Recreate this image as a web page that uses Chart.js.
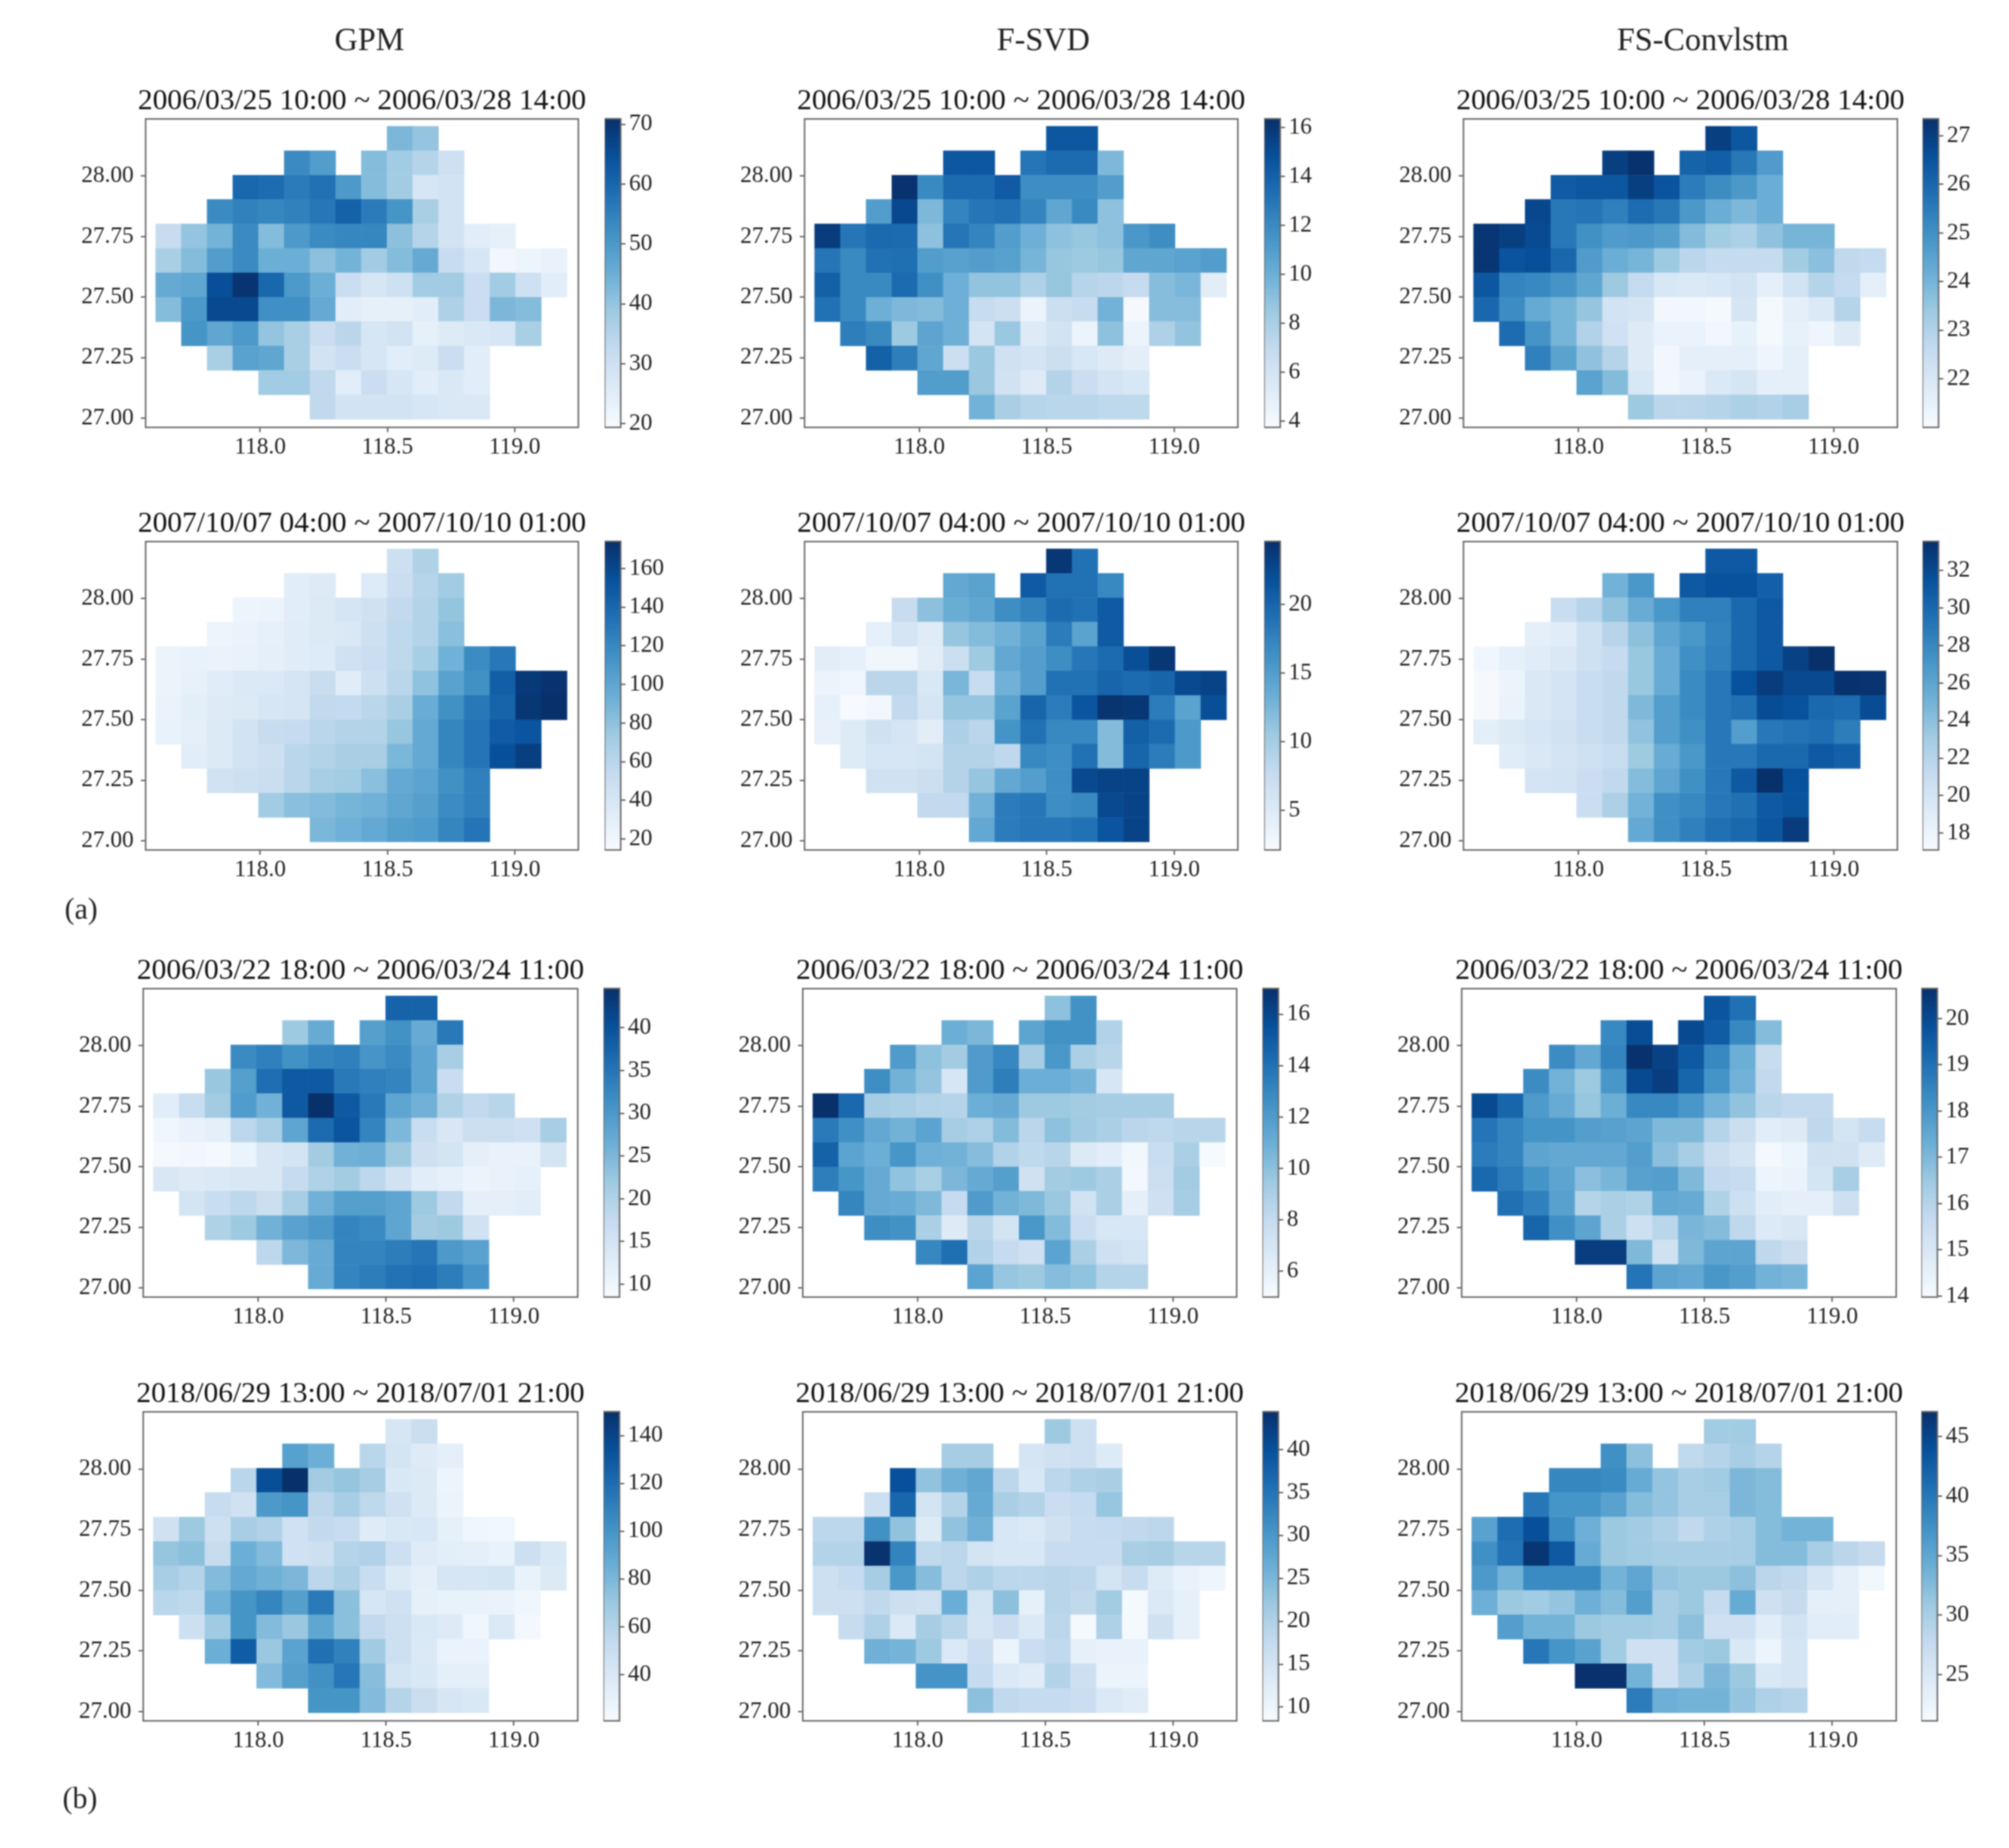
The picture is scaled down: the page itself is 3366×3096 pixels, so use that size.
<!DOCTYPE html>
<html>
<head>
<meta charset="utf-8">
<script src="https://cdn.jsdelivr.net/npm/chart.js@4"></script>
<style>
  html, body { margin: 0; background: #fff; }
  #page { position: relative; width: 3366px; height: 3096px; overflow: hidden; font-family: "Liberation Serif", serif; color: #222; filter: blur(1px); }
  canvas { position: absolute; }
  .label { position: absolute; transform: translate(-50%, -50%); white-space: nowrap; }
</style>
</head>
<body>
<div id="page"></div>
<script>
// --- Grid ---
const lonCenters = [117.64, 117.741, 117.842, 117.943, 118.044, 118.145, 118.246, 118.347, 118.448, 118.549, 118.65, 118.751, 118.852, 118.953, 119.054, 119.155];
const latCenters = [28.155, 28.054, 27.953, 27.853, 27.752, 27.651, 27.55, 27.449, 27.349, 27.248, 27.147, 27.046];
const latHalf = 0.0504;
// which lon columns hold a cell, one list per lat row (top row first)
const rowColumns = [
  [9, 10],
  [5, 6, 8, 9, 10, 11],
  [3, 4, 5, 6, 7, 8, 9, 10, 11],
  [2, 3, 4, 5, 6, 7, 8, 9, 10, 11],
  [0, 1, 2, 3, 4, 5, 6, 7, 8, 9, 10, 11, 12, 13],
  [0, 1, 2, 3, 4, 5, 6, 7, 8, 9, 10, 11, 12, 13, 14, 15],
  [0, 1, 2, 3, 4, 5, 6, 7, 8, 9, 10, 11, 12, 13, 14, 15],
  [0, 1, 2, 3, 4, 5, 6, 7, 8, 9, 10, 11, 12, 13, 14],
  [1, 2, 3, 4, 5, 6, 7, 8, 9, 10, 11, 12, 13, 14],
  [2, 3, 4, 5, 6, 7, 8, 9, 10, 11, 12],
  [4, 5, 6, 7, 8, 9, 10, 11, 12],
  [6, 7, 8, 9, 10, 11, 12]
];
const lonTicks = [118, 118.5, 119];
const latTicks = [27, 27.25, 27.5, 27.75, 28];

const columnNames = ["GPM", "F-SVD", "FS-Convlstm"];
const eventTitles = [
  "2006/03/25 10:00 ~ 2006/03/28 14:00",
  "2007/10/07 04:00 ~ 2007/10/10 01:00",
  "2006/03/22 18:00 ~ 2006/03/24 11:00",
  "2018/06/29 13:00 ~ 2018/07/01 21:00"
];

// --- Values ---
const gpm1 = [
  [43, 40],
  [53, 49, 42, 38, 35, 30],
  [60, 59, 56, 58, 50, 42, 38, 28, 29],
  [53, 55, 54, 55, 57, 61, 56, 51, 37, 29],
  [32, 40, 44, 53, 42, 50, 53, 54, 54, 41, 35, 29, 25, 24],
  [37, 42, 49, 53, 45, 45, 41, 44, 38, 42, 46, 32, 28, 21, 22, 23],
  [46, 47, 65, 70, 60, 50, 45, 31, 28, 30, 38, 38, 31, 38, 30, 25],
  [42, 50, 66, 66, 52, 52, 46, 25, 24, 24, 25, 36, 31, 43, 42],
  [51, 47, 50, 40, 37, 31, 34, 28, 29, 24, 26, 27, 28, 37],
  [37, 48, 47, 37, 29, 31, 28, 25, 26, 31, 25],
  [38, 38, 33, 25, 31, 28, 25, 27, 25],
  [33, 29, 29, 29, 28, 27, 27]
];
const fsvd1 = [
  [14.5, 14.5],
  [14.5, 14.5, 13, 13.5, 13.5, 9.5],
  [16.2, 12, 13.5, 13.5, 14.3, 11.8, 11.8, 11.8, 11],
  [11, 15.2, 9.5, 12.3, 13, 13.2, 12.3, 10.5, 12, 9],
  [15.8, 13, 13.6, 13.5, 9, 13, 12.3, 11, 10, 9, 8.7, 9, 11.3, 11.8],
  [13, 12, 13.2, 13.3, 11, 10.8, 11, 10.8, 9.7, 8.7, 8.5, 8.7, 10.5, 10.5, 10.7, 11],
  [14, 12, 12, 13.5, 11.7, 10, 8.8, 8.8, 7.8, 8.7, 7.5, 7.3, 6.9, 9.2, 9.6, 5.1],
  [13.2, 12, 10, 9.5, 9.3, 10, 6.8, 6.5, 4.5, 6.5, 6.8, 9.8, 3.9, 9.2, 9.2],
  [12.6, 12, 8.5, 10.6, 10, 6, 8.6, 5.3, 6.1, 4.5, 9, 4.5, 7.8, 8.8],
  [14, 12.6, 10.5, 6.5, 8.6, 6.3, 6, 6.5, 5.7, 5.3, 5],
  [11, 11, 8.6, 6.2, 5.3, 7.6, 6.6, 6, 5.7],
  [9.8, 8, 7.5, 7.4, 7.4, 7.2, 7.2]
];
const fsconv1 = [
  [27, 26.4],
  [27, 27.3, 26.1, 26.2, 25.6, 24.7],
  [26.3, 26.4, 26.4, 27, 26.5, 25.5, 25.1, 24.8, 24.2],
  [26.8, 25.6, 25.7, 25.4, 25.9, 25.6, 24.8, 24.2, 23.9, 24.2],
  [27.2, 27, 26.7, 25.6, 25, 24.7, 24.8, 24.6, 23.8, 23.3, 23.1, 23.6, 24, 24],
  [27.2, 26.5, 26.6, 26, 24.7, 24.2, 24, 23.4, 22.8, 22.6, 22.6, 22.6, 23.3, 23.7, 22.7, 22.6],
  [26.4, 25.3, 25.2, 24.9, 24.4, 23.4, 22.6, 22, 21.9, 22, 22.2, 21.6, 22.2, 22.9, 22.6, 21.6],
  [26, 25.1, 24.3, 24, 23.5, 22.2, 22.1, 21.2, 21.2, 21.1, 22.1, 21.1, 21.6, 21.9, 22.9],
  [25.9, 24.9, 24, 23, 22.3, 21.8, 21.4, 21.4, 21.2, 21.5, 21.1, 21.5, 21.3, 21.8],
  [25.4, 24.5, 23.6, 22.9, 21.8, 21.2, 21.6, 21.6, 21.6, 21.3, 21.6],
  [24.5, 23.8, 22, 21.2, 21.4, 21.9, 22.1, 21.6, 21.6],
  [23.4, 22.8, 22.8, 22.9, 23.1, 23, 23.2]
];
const gpm2 = [
  [48, 65],
  [32, 34, 35, 50, 62, 72],
  [23, 24, 32, 36, 42, 46, 56, 64, 78],
  [23, 25, 28, 33, 36, 38, 48, 58, 64, 82],
  [24, 26, 25, 26, 29, 33, 35, 47, 50, 58, 70, 92, 118, 130],
  [24, 27, 33, 37, 37, 42, 52, 33, 48, 60, 80, 103, 115, 145, 168, 172],
  [25, 31, 34, 36, 40, 42, 56, 55, 60, 68, 95, 115, 130, 142, 170, 174],
  [26, 29, 36, 44, 53, 54, 60, 64, 64, 77, 98, 122, 132, 148, 152],
  [32, 36, 44, 48, 60, 64, 68, 68, 88, 98, 122, 132, 155, 165],
  [45, 48, 50, 60, 70, 72, 82, 98, 102, 115, 125],
  [72, 82, 85, 90, 92, 100, 105, 118, 125],
  [88, 93, 98, 105, 108, 122, 132]
];
const fsvd2 = [
  [24, 19],
  [14, 14.5, 21, 19, 19, 17],
  [7.5, 11.5, 13.5, 14.2, 16.5, 17.5, 19.5, 19, 21],
  [4, 6, 4.8, 11, 12, 13, 14.5, 18, 14.5, 21],
  [4.5, 4, 3, 3, 4.5, 7, 10.5, 14, 15, 16.5, 18.5, 19.5, 22, 24],
  [3.5, 3, 8.5, 8.5, 5.5, 12.5, 7.5, 13, 15, 19, 19, 20, 19.5, 20, 22.5, 23],
  [4, 2.2, 2.8, 8, 6, 11, 11, 14.5, 20, 18, 21.5, 24.3, 24, 18, 14.5, 22],
  [3.8, 5, 6.5, 6, 4.5, 9.5, 8.5, 16, 19, 17, 17, 12, 20.5, 19.5, 15.5],
  [5, 5.8, 5.8, 6.2, 9, 9, 8.2, 17, 16.5, 19, 12, 20, 18, 15.5],
  [6.5, 6.5, 7, 9, 11, 14, 15, 16.5, 22.5, 23, 23],
  [8, 8, 13, 18, 18.5, 16.5, 17, 22.5, 23],
  [14, 18, 18.5, 18.5, 19, 21.5, 23]
];
const fsconv2 = [
  [31, 31],
  [25, 27, 31, 31.5, 31.5, 30.5],
  [21, 22, 23.8, 25.5, 27, 28.5, 28.5, 30, 31],
  [18.7, 19, 20.5, 22, 24, 26, 27, 28.3, 30, 31],
  [17.7, 18.5, 19, 19.5, 20.5, 21.2, 23.5, 25.5, 27.5, 28.5, 30, 31, 32.5, 33.5],
  [17.3, 18, 19.5, 20, 21, 21.5, 23.5, 25.5, 27.8, 29, 31.5, 32.8, 32, 32, 33.4, 33.3],
  [17.3, 18.2, 19.5, 20, 21, 21.5, 24.5, 26.5, 27.8, 29, 29.5, 31.8, 31.5, 30, 29.8, 31.8],
  [18.8, 19.3, 19.8, 20.3, 21, 21.5, 23.8, 26.5, 27.5, 29, 26.5, 29, 29.3, 29.6, 28.7],
  [19, 19.5, 20, 20.5, 21, 23.2, 25.5, 27, 29, 29, 30, 30, 31, 30.5],
  [20, 20.2, 20.8, 21.5, 24.3, 26, 27.5, 29, 31, 33.5, 31.5],
  [20.8, 22.5, 25, 27.5, 28, 29, 29.5, 31, 31.3],
  [25.7, 27.5, 28.5, 29.5, 30, 31.2, 32.8]
];
const gpm3 = [
  [37.5, 37.5],
  [22, 27, 29, 31, 27, 34.5],
  [32, 33.5, 31, 33, 33.5, 30.5, 32, 28, 21],
  [22.5, 29, 36, 39, 39, 34.5, 33.5, 33, 28, 17],
  [12.5, 17, 21.5, 29.5, 26, 39, 44.5, 39, 34.5, 28, 26, 20, 18, 19],
  [10, 11, 12, 18.5, 21, 28, 36.5, 39.5, 33, 25, 17, 14, 16.5, 16.5, 16, 21],
  [9, 9.5, 9, 10.5, 14, 15, 21.5, 26, 26.5, 22, 16, 15, 12, 11, 11, 15],
  [14, 13, 13.5, 14, 14, 17.5, 20, 21.5, 18.5, 15.5, 12.5, 11.5, 10.5, 11, 11.5],
  [15, 17, 18.5, 16.5, 21, 26, 29, 29, 28, 22, 18, 12, 12, 12.5],
  [20, 22, 26, 28.5, 30, 33, 32, 28, 21.5, 22, 15.5],
  [18.5, 25, 27, 33, 33, 34, 35, 30, 28.5],
  [27, 33, 34, 35.5, 36, 34, 30.5]
];
const fsvd3 = [
  [10, 12.5],
  [11, 10.5, 11.5, 12.5, 12.5, 8.8],
  [12, 10, 9.3, 12, 13, 9.2, 12.2, 9, 8.5],
  [12.7, 10.8, 9.8, 7, 12, 13.4, 11, 11, 10.7, 7],
  [17, 14.4, 9.2, 9, 8.7, 8.6, 11, 11.2, 9.5, 9.5, 9.3, 9.2, 9.2, 9.2],
  [13.6, 12.6, 11.3, 10.8, 11.6, 9.2, 8.9, 10.3, 8.4, 10, 9.4, 9, 8.4, 8.3, 8.5, 8.5],
  [14.7, 11.6, 11, 12.3, 10.9, 10.8, 10.2, 8.8, 8.3, 8.5, 6.6, 6.3, 5.4, 7.8, 9, 5.1],
  [13.4, 12.3, 11.2, 9.9, 9.1, 10.5, 11.2, 11.8, 7.4, 9.3, 9.5, 9, 5.3, 7.6, 9.3],
  [13.1, 11.2, 11.1, 10.4, 8, 12, 10.8, 10.4, 9.6, 7.3, 9, 6.1, 7.5, 9.2],
  [12.7, 12.5, 9, 6.5, 8.5, 7.2, 12.2, 10.3, 7.7, 6.9, 6.9],
  [13, 14.1, 8.8, 8, 7.5, 11.6, 9, 7.5, 7.2],
  [11.6, 9.7, 9.5, 10.2, 9.9, 8.6, 8.6]
];
const fsconv3 = [
  [19.7, 19],
  [18.4, 19.9, 20, 19.5, 18.4, 16.9],
  [18.3, 17.5, 18.5, 20.6, 20.2, 19.6, 18.4, 17.3, 15.6],
  [18.3, 17.2, 16.5, 18, 20, 20.3, 19.3, 18.1, 17.2, 15.7],
  [20, 19.3, 17.9, 17.4, 16.6, 17.3, 18.4, 18.4, 18, 17.2, 16.7, 15.9, 15.7, 15.7],
  [18.9, 18.5, 18.1, 18.1, 17.8, 17.7, 17.6, 17, 17, 16, 15.5, 14.7, 14.8, 15.8, 15.2, 15.6],
  [18.7, 18.5, 17.6, 17.5, 17.5, 17.5, 17.8, 16.8, 16.3, 15.5, 15.2, 14.1, 14.3, 15.3, 15.3, 14.8],
  [19.2, 18.7, 18.1, 17.6, 16.8, 17.1, 17.7, 17.8, 17, 15.7, 15.6, 14.3, 14.4, 15.2, 16.3],
  [19, 18.6, 17.7, 16, 16.2, 16.1, 17.5, 17.4, 16.1, 15.4, 14.7, 14.6, 14.6, 15.4],
  [19.3, 18.2, 17.6, 16.2, 15.4, 15.9, 17.1, 16.9, 15.8, 14.9, 15],
  [20.3, 20.3, 17, 15.3, 17, 17.6, 17.6, 15.8, 15.5],
  [18.9, 17.6, 17.5, 18, 17.8, 17.2, 17.1]
];
const gpm4 = [
  [42, 50],
  [93, 85, 58, 44, 37, 33],
  [58, 135, 150, 67, 72, 66, 40, 38, 27],
  [52, 46, 97, 100, 57, 65, 56, 47, 38, 28],
  [46, 69, 48, 65, 62, 47, 54, 52, 36, 40, 41, 32, 26, 25],
  [72, 75, 52, 85, 78, 47, 48, 60, 62, 48, 36, 34, 33, 30, 48, 40],
  [65, 61, 78, 88, 84, 80, 57, 63, 51, 38, 33, 42, 42, 44, 30, 38],
  [58, 56, 84, 100, 108, 94, 113, 75, 42, 47, 32, 30, 30, 29, 26],
  [48, 68, 100, 78, 70, 90, 75, 54, 48, 40, 37, 26, 39, 24],
  [85, 128, 70, 92, 118, 110, 68, 48, 39, 29, 29],
  [78, 94, 102, 115, 76, 44, 40, 33, 33],
  [100, 100, 78, 60, 50, 42, 40]
];
const fsvd4 = [
  [22, 16],
  [21, 21, 14.5, 15.5, 16, 13],
  [40, 23, 26, 27.5, 18.5, 14, 18.5, 20, 20.5],
  [16, 37, 15, 19.5, 27, 20.5, 19.5, 16.5, 17.5, 22.5],
  [18.5, 18.5, 31, 23, 13, 23, 26, 14, 13.5, 15.5, 17, 17.5, 18, 18.5],
  [19.5, 19.5, 44, 33, 18, 18.5, 15, 14, 14, 17, 17, 17, 20.5, 21, 19, 19],
  [16, 17.5, 21, 30, 24, 18.5, 20, 18.5, 18.5, 19, 18.5, 15, 17, 13, 11, 10],
  [16, 16, 18, 16, 15.5, 26.5, 15, 23.5, 11.5, 19, 18, 21.5, 9, 13.5, 11.5],
  [17, 20, 13.5, 21, 19, 14.5, 16.5, 13.5, 18.5, 9, 20, 9, 15.5, 11.5],
  [26, 25.5, 22, 13.5, 16.5, 10.5, 16.5, 18, 11.5, 11, 11],
  [30.5, 30.5, 17.5, 13.5, 12.5, 19.5, 16, 10.5, 10.5],
  [23.5, 18, 17.5, 17.5, 16.5, 13.5, 12.5]
];
const fsconv4 = [
  [30.5, 30.5],
  [37.5, 32, 28, 29, 30, 29],
  [38.5, 38.5, 38, 34.5, 31.5, 30, 30.5, 33, 32.5],
  [40, 37, 37, 35.5, 32.5, 31.5, 30, 30, 33, 32.5],
  [35.5, 41, 44, 38, 34, 31, 30.5, 29.5, 28, 29.5, 30, 32.5, 33.5, 33.5],
  [37.5, 40.5, 46.5, 43, 34.5, 31, 30.5, 30, 30, 30, 30, 32.5, 32.5, 30, 28.5, 27.5],
  [36.5, 33.5, 38, 38, 38, 33.5, 35, 31.5, 31, 31, 32, 28.5, 28, 25.5, 23.5, 22],
  [34, 31, 30.5, 31.5, 34, 32.5, 36, 30, 31, 27.5, 34.5, 26.5, 27.5, 23.5, 23.5],
  [36, 33.5, 33.5, 31, 30.5, 30.5, 30, 32, 26.5, 26.5, 24, 26, 24, 24],
  [40, 37, 35.5, 30.5, 26.5, 26.5, 30.5, 31, 25, 22.5, 25.5],
  [47, 47, 33.5, 26.5, 29.5, 33, 31, 25, 25.5],
  [39.5, 34, 33.5, 33.5, 31.5, 29.5, 29]
];

// colour bar limits and ticks, same order as the panels
const barLimits = [
  [19.4, 70.9], [3.75, 16.35], [21.0, 27.35],
  [14.3, 174], [2.1, 24.6], [17.1, 33.55],
  [8.5, 44.6], [5.0, 17.0], [13.98, 20.65],
  [20.6, 150], [8.4, 44.4], [21.1, 47.1]
];
const barTicks = [
  [20, 30, 40, 50, 60, 70], [4, 6, 8, 10, 12, 14, 16], [22, 23, 24, 25, 26, 27],
  [20, 40, 60, 80, 100, 120, 140, 160], [5, 10, 15, 20], [18, 20, 22, 24, 26, 28, 30, 32],
  [10, 15, 20, 25, 30, 35, 40], [6, 8, 10, 12, 14, 16], [14, 15, 16, 17, 18, 19, 20],
  [40, 60, 80, 100, 120, 140], [10, 15, 20, 25, 30, 35, 40], [25, 30, 35, 40, 45]
];
const panelValues = [gpm1, fsvd1, fsconv1, gpm2, fsvd2, fsconv2, gpm3, fsvd3, fsconv3, gpm4, fsvd4, fsconv4];

// matplotlib "Blues"
const blues = ["#f7fbff", "#deebf7", "#c6dbef", "#9ecae1", "#6baed6", "#4292c6", "#2171b5", "#08519c", "#08306b"];

// --- Layout of the page (pixels) ---
const rowFrames = [[198.6, 715.7], [907.3, 1424.5], [1656, 2173], [2365, 2883]];
const colFrames = [[[243.6, 969], [1348, 2074], [2451.6, 3179]], [[239.7, 967.6], [1345, 2072], [2449, 3177]]];
const barX = [[1013, 2118, 3221], [1011, 2115, 3219]];
const barWidth = 27;
const sidePad = 180, titleBlock = 69, xAxisBlock = 80;

const page = document.getElementById("page");
const tickFont = { family: "Liberation Serif", size: 39 };
const frameColor = "#666";

function hexToRgb(hex) {
  return [1, 3, 5].map(i => parseInt(hex.slice(i, i + 2), 16));
}

function bluesColor(t) {
  const pos = Math.min(Math.max(t, 0), 1) * (blues.length - 1);
  const i = Math.min(Math.floor(pos), blues.length - 2);
  const a = hexToRgb(blues[i]), b = hexToRgb(blues[i + 1]);
  const f = pos - i;
  return `rgb(${a.map((v, k) => Math.round(v + (b[k] - v) * f)).join(",")})`;
}

// top and right sides of the axes box
const framePlugin = {
  id: "frame",
  afterDatasetsDraw(chart) {
    const { left, top, width, height } = chart.chartArea;
    const c = chart.ctx;
    c.save();
    c.strokeStyle = frameColor;
    c.lineWidth = 2.5;
    c.strokeRect(left, top, width, height);
    c.restore();
  }
};

function addCanvas(left, top, width, height) {
  const canvas = document.createElement("canvas");
  canvas.width = width;
  canvas.height = height;
  canvas.style.left = left + "px";
  canvas.style.top = top + "px";
  canvas.style.width = width + "px";
  canvas.style.height = height + "px";
  page.appendChild(canvas);
  return canvas;
}

function axisStyle(extra) {
  return Object.assign({
    border: { display: false },
    grid: { offset: false, drawOnChartArea: false, drawTicks: true, tickLength: 8, tickWidth: 2, tickColor: "#444" }
  }, extra);
}

function drawPanel(index, title, values, frameX, frameY) {
  const [limMin, limMax] = barLimits[index];
  const cells = [];
  const colors = [];
  values.forEach((row, r) => {
    row.forEach((v, k) => {
      cells.push({ x: lonCenters[rowColumns[r][k]], y: [latCenters[r] - latHalf, latCenters[r] + latHalf] });
      colors.push(bluesColor((v - limMin) / (limMax - limMin)));
    });
  });

  const w = Math.round(frameX[1] - frameX[0]), h = Math.round(frameY[1] - frameY[0]);
  const canvas = addCanvas(Math.round(frameX[0]) - sidePad, Math.round(frameY[0]) - titleBlock, w + 2 * sidePad, h + titleBlock + xAxisBlock);

  new Chart(canvas, {
    type: "bar",
    data: { datasets: [{ data: cells, backgroundColor: colors, borderWidth: 0, barPercentage: 1, categoryPercentage: 1 }] },
    plugins: [framePlugin],
    options: {
      responsive: false,
      animation: false,
      plugins: {
        legend: { display: false },
        tooltip: { enabled: false },
        title: {
          display: true,
          text: title,
          color: "#111",
          font: { family: "Liberation Serif", size: 49.4, weight: "normal", lineHeight: 1.2 },
          padding: { top: 10, bottom: 0 }
        }
      },
      scales: {
        x: axisStyle({
          type: "linear",
          min: 117.55,
          max: 119.25,
          offset: false,
          afterFit: s => { s.height = xAxisBlock; },
          afterBuildTicks: s => { s.ticks = lonTicks.map(value => ({ value })); },
          ticks: { font: tickFont, color: "#222", padding: 2, maxRotation: 0, autoSkip: false, callback: v => v.toFixed(1) }
        }),
        y: axisStyle({
          type: "linear",
          min: 26.962,
          max: 28.236,
          beginAtZero: false,
          afterFit: s => { s.width = sidePad; },
          afterBuildTicks: s => { s.ticks = latTicks.map(value => ({ value })); },
          ticks: { font: tickFont, color: "#222", padding: 12, autoSkip: false, callback: v => v.toFixed(2) }
        }),
        // empty axis on the right, keeps the title centred over the box
        yRight: {
          type: "linear",
          position: "right",
          min: 26.962,
          max: 28.236,
          border: { display: false },
          grid: { display: false },
          ticks: { display: false },
          afterFit: s => { s.width = sidePad; }
        }
      }
    }
  });
}

function drawColorBar(index, left, frameY) {
  const [limMin, limMax] = barLimits[index];
  const pad = 30;
  const h = Math.round(frameY[1] - frameY[0]);
  const canvas = addCanvas(left, Math.round(frameY[0]) - pad, barWidth + 90, h + 2 * pad);

  new Chart(canvas, {
    type: "bar",
    data: {
      labels: [""],
      datasets: [{
        data: [[limMin, limMax]],
        borderWidth: 0,
        barPercentage: 1,
        categoryPercentage: 1,
        backgroundColor: ctx => {
          const area = ctx.chart.chartArea;
          if (!area) return blues[0];
          const g = ctx.chart.ctx.createLinearGradient(0, area.bottom, 0, area.top);
          blues.forEach((c, i) => g.addColorStop(i / (blues.length - 1), c));
          return g;
        }
      }]
    },
    plugins: [framePlugin],
    options: {
      responsive: false,
      animation: false,
      layout: { padding: { top: pad, bottom: pad } },
      plugins: { legend: { display: false }, tooltip: { enabled: false } },
      scales: {
        x: { display: false },
        y: axisStyle({
          type: "linear",
          position: "right",
          min: limMin,
          max: limMax,
          beginAtZero: false,
          afterFit: s => { s.width = 90; },
          afterBuildTicks: s => { s.ticks = barTicks[index].map(value => ({ value })); },
          ticks: { font: tickFont, color: "#222", padding: 6, autoSkip: false }
        })
      }
    }
  });
}

function addLabel(text, x, y, size) {
  const div = document.createElement("div");
  div.className = "label";
  div.textContent = text;
  div.style.left = x + "px";
  div.style.top = y + "px";
  div.style.fontSize = size + "px";
  page.appendChild(div);
}

// --- Init ---
rowFrames.forEach((frameY, r) => {
  const group = r < 2 ? 0 : 1;
  colFrames[group].forEach((frameX, c) => {
    const index = r * 3 + c;
    drawPanel(index, eventTitles[r], panelValues[index], frameX, frameY);
    drawColorBar(index, barX[group][c], frameY);
  });
});

addLabel(columnNames[0], 619, 66, 54);
addLabel(columnNames[1], 1748, 66, 54);
addLabel(columnNames[2], 2853, 66, 54);
addLabel("(a)", 136, 1522, 50);
addLabel("(b)", 134, 3012, 50);
</script>
</body>
</html>
